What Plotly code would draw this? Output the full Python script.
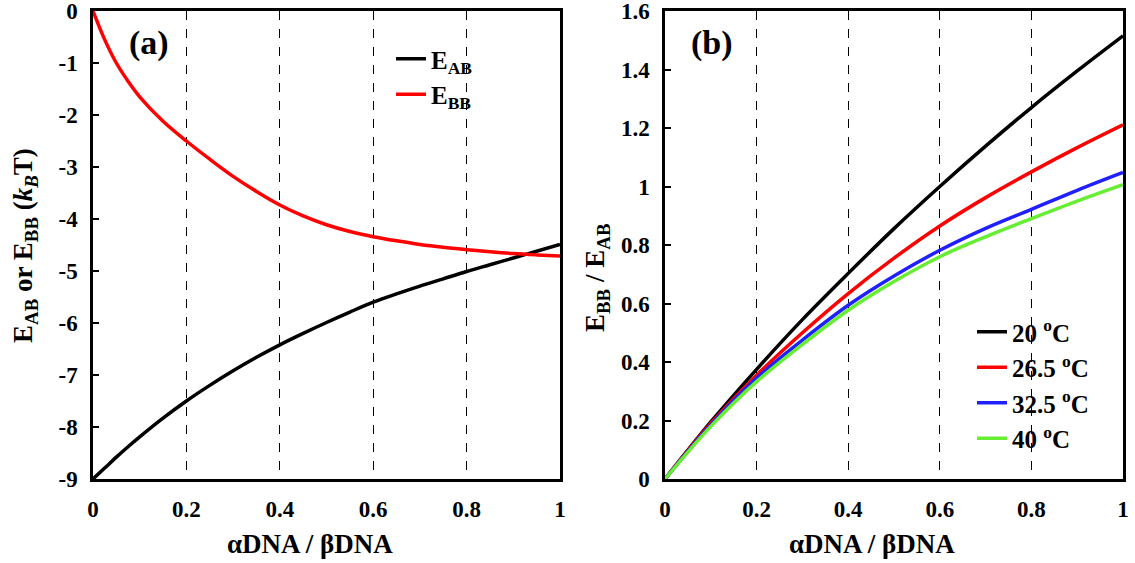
import plotly.graph_objects as go

# ---- panel (a): interaction energies vs composition ----
ratio_a = [0.0, 0.025, 0.05, 0.075, 0.1, 0.15, 0.2, 0.25, 0.3, 0.35, 0.4, 0.45, 0.5,
           0.55, 0.6, 0.65, 0.7, 0.75, 0.8, 0.85, 0.9, 0.95, 1.0]
e_ab = [-9.0, -8.79, -8.58, -8.38, -8.19, -7.83, -7.5, -7.2, -6.92, -6.66, -6.42, -6.2, -5.99,
        -5.79, -5.6, -5.44, -5.29, -5.15, -5.01, -4.88, -4.75, -4.62, -4.49]
e_bb = [0.0, -0.55, -1.0, -1.35, -1.65, -2.12, -2.5, -2.85, -3.18, -3.47, -3.73, -3.94, -4.11,
        -4.24, -4.34, -4.42, -4.49, -4.545, -4.59, -4.63, -4.665, -4.69, -4.71]

# ---- panel (b): E_BB / E_AB at several temperatures ----
ratio_b = [0.0, 0.1, 0.2, 0.3, 0.4, 0.5, 0.6, 0.7, 0.8, 0.9, 1.0]
r_20 = [0.0, 0.195, 0.375, 0.545, 0.703, 0.856, 1.0, 1.138, 1.27, 1.395, 1.515]
r_265 = [0.0, 0.19, 0.355, 0.50, 0.634, 0.755, 0.865, 0.962, 1.05, 1.133, 1.211]
r_325 = [0.0, 0.185, 0.345, 0.475, 0.594, 0.694, 0.782, 0.857, 0.922, 0.987, 1.048]
r_40 = [0.0, 0.18, 0.333, 0.46, 0.577, 0.675, 0.76, 0.828, 0.89, 0.95, 1.006]
temp_labels = ["20 <sup>o</sup>C", "26.5 <sup>o</sup>C", "32.5 <sup>o</sup>C", "40 <sup>o</sup>C"]
temp_colors = ["#000000", "#ff0000", "#2020ff", "#66ee33"]

# tick positions and labels
xticks = [0, 0.2, 0.4, 0.6, 0.8, 1.0]
xticks_text = ["0", "0.2", "0.4", "0.6", "0.8", "1"]
yticks_a = [0, -1, -2, -3, -4, -5, -6, -7, -8, -9]
yticks_a_text = ["0", "-1", "-2", "-3", "-4", "-5", "-6", "-7", "-8", "-9"]
yticks_b = [0, 0.2, 0.4, 0.6, 0.8, 1.0, 1.2, 1.4, 1.6]
yticks_b_text = ["0", "0.2", "0.4", "0.6", "0.8", "1", "1.2", "1.4", "1.6"]

FONT = "Liberation Serif, Times New Roman, Times, serif"
W, H = 1135, 563


def px_x(p):
    return p / W


def px_y(p):
    return (H - p) / H


fig = go.Figure()

fig.add_trace(go.Scatter(x=ratio_a, y=e_ab, mode="lines", name="E<sub>AB</sub>",
                         line=dict(color="#000000", width=3.5, shape="spline"),
                         xaxis="x", yaxis="y", legend="legend"))
fig.add_trace(go.Scatter(x=ratio_a, y=e_bb, mode="lines", name="E<sub>BB</sub>",
                         line=dict(color="#ff0000", width=3.5, shape="spline"),
                         xaxis="x", yaxis="y", legend="legend"))

for vals, lab, col in zip([r_20, r_265, r_325, r_40], temp_labels, temp_colors):
    fig.add_trace(go.Scatter(x=ratio_b, y=vals, mode="lines", name=lab,
                             line=dict(color=col, width=3.5, shape="spline"),
                             xaxis="x2", yaxis="y2", legend="legend2"))

xdom_a = [px_x(93), px_x(560)]
xdom_b = [px_x(665), px_x(1123)]
ydom = [px_y(479), px_y(11)]

tickfont = dict(family=FONT, size=23, color="black", weight="bold")
titlefont = dict(family=FONT, size=27, color="black", weight="bold")
legfont = dict(family=FONT, size=25, color="black", weight="bold")

xcommon = dict(range=[0, 1], tickmode="array", tickvals=xticks, ticktext=xticks_text,
               showline=True, linecolor="black", linewidth=2.5, mirror=True, ticks="",
               showgrid=True, gridcolor="black", griddash="dash", gridwidth=1,
               zeroline=False, tickfont=tickfont, ticklabelstandoff=8,
               ticklabeloverflow="allow", automargin=False)
ycommon = dict(showline=True, linecolor="black", linewidth=2.5, mirror=True,
               ticks="inside", ticklen=6, tickwidth=2, tickcolor="black",
               showgrid=False, zeroline=False, tickfont=tickfont, automargin=False,
               ticklabelstandoff=8, ticklabeloverflow="allow", tickmode="array")

fig.update_layout(
    template="none",
    width=W, height=H,
    margin=dict(l=0, r=0, t=0, b=0),
    paper_bgcolor="white", plot_bgcolor="white",
    font=dict(family=FONT, color="black", weight="bold"),
    xaxis=dict(domain=xdom_a, anchor="y", **xcommon),
    yaxis=dict(domain=ydom, anchor="x", range=[-9, 0],
               tickvals=yticks_a, ticktext=yticks_a_text, **ycommon),
    xaxis2=dict(domain=xdom_b, anchor="y2", **xcommon),
    yaxis2=dict(domain=ydom, anchor="x2", range=[0, 1.6],
                tickvals=yticks_b, ticktext=yticks_b_text, **ycommon),
    legend=dict(x=px_x(391), y=px_y(36), xanchor="left", yanchor="top",
                bgcolor="rgba(255,255,255,0)", font=legfont,
                tracegroupgap=0, itemwidth=30),
    legend2=dict(x=px_x(972), y=px_y(309), xanchor="left", yanchor="top",
                 bgcolor="rgba(255,255,255,0)", font=legfont,
                 tracegroupgap=0, itemwidth=30),
    showlegend=True,
)

# axis titles and panel labels
annos = [
    dict(text="αDNA / βDNA", x=px_x(310), y=px_y(544), font=titlefont),
    dict(text="αDNA / βDNA", x=px_x(872), y=px_y(544), font=titlefont),
    dict(text="E<sub>AB</sub> or E<sub>BB</sub> (<i>k<sub>B</sub></i>T)", x=px_x(25),
         y=px_y(246), textangle=-90, font=titlefont),
    dict(text="E<sub>BB</sub> / E<sub>AB</sub>", x=px_x(597), y=px_y(278),
         textangle=-90, font=titlefont),
    dict(text="(a)", x=px_x(149), y=px_y(43), font=dict(family=FONT, size=34, color="black", weight="bold")),
    dict(text="(b)", x=px_x(712), y=px_y(43), font=dict(family=FONT, size=34, color="black", weight="bold")),
]
for a in annos:
    fig.add_annotation(xref="paper", yref="paper", xanchor="center", yanchor="middle",
                       showarrow=False, **a)

fig.write_html("out.html")
